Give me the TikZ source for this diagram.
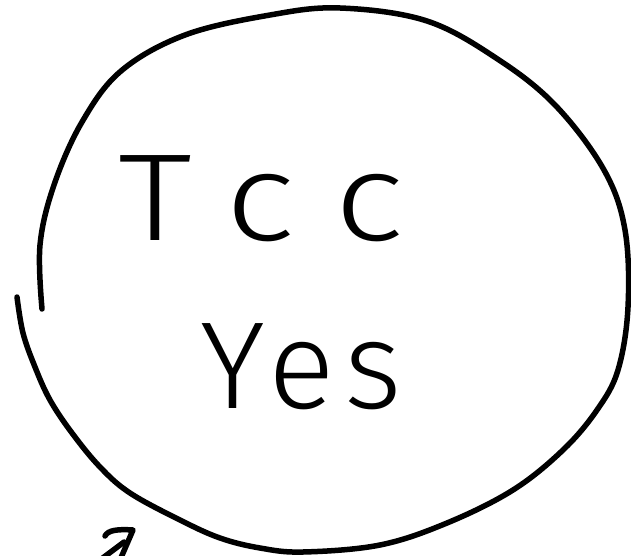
\documentclass[tikz,border=0pt]{standalone}
\usepackage{fontspec}
\IfFontExistsTF{Fira Sans Light}
  {\newfontfamily\handfont{Fira Sans Light}}
  {\IfFontExistsTF{Lato Light}
    {\newfontfamily\handfont{Lato Light}}
    {\IfFontExistsTF{DejaVu Sans ExtraLight}
      {\newfontfamily\handfont{DejaVu Sans ExtraLight}}
      {\newfontfamily\handfont{Fira Sans}}}}
\begin{document}
\begin{tikzpicture}[x=1pt,y=-1pt,
  ink/.style={line width=5.5pt,line cap=round,line join=round,black},
  word/.style={inner sep=0pt,anchor=base west}]
\path[use as bounding box] (0,0) rectangle (631,556);
\clip (0,0) rectangle (631,556);
% hand-drawn circle (one stroke, overlapping on the left)
\draw[ink] plot[smooth,tension=0.6] coordinates {
  (17,297) (23,333) (35,367) (50,400) (72,433) (100,467) (130,493)
  (180,520) (220,538) (260,548) (303,552) (380,545) (447,523) (513,490)
  (563,450) (597,410) (618,370) (628,307) (625,230) (604,170) (556,106)
  (499,60) (427,21) (340,8) (270,15) (185,35) (121,71) (82,122) (54,185)
  (40,245) (42,309)};
% texts
\node[word,xscale=1.2,font=\handfont\fontsize{124}{124}\selectfont\addfontfeature{LetterSpace=28}] (tcc) at (118,240) {Tcc};
\node[word,font=\handfont\fontsize{124}{124}\selectfont\addfontfeature{LetterSpace=8}] (yes) at (200,408) {Yes};
% small arrow at the bottom left
\draw[ink] (100,560) -- (124,542);
\draw[ink] (105,536) .. controls (108,530) and (118,529) .. (133,530) -- (120,560);
\end{tikzpicture}
\end{document}
